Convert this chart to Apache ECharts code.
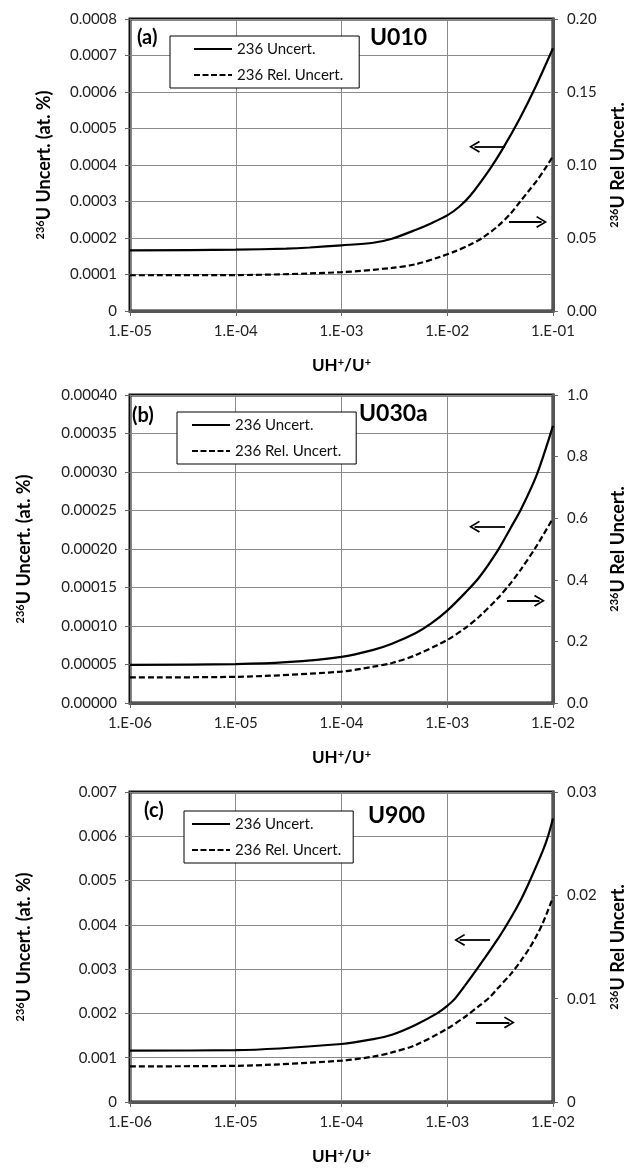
<!DOCTYPE html>
<html><head><meta charset="utf-8">
<script src="https://cdn.jsdelivr.net/npm/echarts@6/dist/echarts.min.js"></script>
<style>html,body{margin:0;padding:0;background:#fff}#c{width:636px;height:1169px}</style>
</head><body><div id="c"></div>
<script>
// ---------- data ----------
const seriesNames = ['236 Uncert.', '236 Rel. Uncert.'];
const panelLetters = ['(a)', '(b)', '(c)'];
const panelNames = ['U010', 'U030a', 'U900'];

// panel (a)
const xA_solid = [1e-5, 1e-4, 3e-4, 5e-4, 1e-3, 2e-3, 3e-3, 5e-3, 7e-3, 1e-2, 1.29e-2, 1.64e-2, 2.53e-2, 3.31e-2, 4.88e-2, 6.76e-2, 1e-1];
const solidA   = [0.000166, 0.000168, 0.000171, 0.000174, 0.00018, 0.000187, 0.000198, 0.000222, 0.00024, 0.000262, 0.000285, 0.000315, 0.000389, 0.000442, 0.000529, 0.000611, 0.00072];
const xA_dash  = [1e-5, 1e-4, 1e-3, 3e-3, 5e-3, 8.5e-3, 1.2e-2, 1.6e-2, 2.14e-2, 3e-2, 4e-2, 4.9e-2, 6e-2, 7.1e-2, 8.5e-2, 1e-1];
const dashA    = [0.0245, 0.0246, 0.0266, 0.0295, 0.032, 0.037, 0.041, 0.045, 0.05, 0.058, 0.067, 0.075, 0.083, 0.0897, 0.098, 0.106];
const xTicksA  = ['1.E-05', '1.E-04', '1.E-03', '1.E-02', '1.E-01'];
const leftTicksA  = ['0', '0.0001', '0.0002', '0.0003', '0.0004', '0.0005', '0.0006', '0.0007', '0.0008'];
const rightTicksA = ['0.00', '0.05', '0.10', '0.15', '0.20'];

// panel (b)
const xB_solid = [1e-6, 1e-5, 3e-5, 1e-4, 2e-4, 3e-4, 5e-4, 7e-4, 1e-3, 1.5e-3, 2e-3, 3e-3, 4e-3, 5e-3, 7e-3, 1e-2];
const solidB   = [0.0000495, 0.0000505, 0.000053, 0.00006, 0.000069, 0.000077, 0.0000906, 0.000103, 0.00012, 0.000144, 0.000163, 0.000198, 0.000228, 0.000252, 0.000296, 0.00036];
const xB_dash  = [1e-6, 1e-5, 1e-4, 2e-4, 3e-4, 5e-4, 1e-3, 1.5e-3, 2e-3, 3e-3, 4e-3, 5e-3, 7e-3, 1e-2];
const dashB    = [0.083, 0.085, 0.102, 0.118, 0.13, 0.155, 0.205, 0.245, 0.28, 0.34, 0.39, 0.435, 0.51, 0.60];
const xTicksB  = ['1.E-06', '1.E-05', '1.E-04', '1.E-03', '1.E-02'];
const leftTicksB  = ['0.00000', '0.00005', '0.00010', '0.00015', '0.00020', '0.00025', '0.00030', '0.00035', '0.00040'];
const rightTicksB = ['0.0', '0.2', '0.4', '0.6', '0.8', '1.0'];

// panel (c)
const xC_solid = [1e-6, 1e-5, 1e-4, 2e-4, 3e-4, 5e-4, 8e-4, 1e-3, 1.2e-3, 1.87e-3, 3.1e-3, 4e-3, 5e-3, 6e-3, 8e-3, 9e-3, 1e-2];
const solidC   = [0.00116, 0.00117, 0.00131, 0.00142, 0.00152, 0.00174, 0.002, 0.00217, 0.00235, 0.00297, 0.00373, 0.00416, 0.00458, 0.00498, 0.00567, 0.00601, 0.0064];
const xC_dash  = [1e-6, 1e-5, 1e-4, 2e-4, 3e-4, 5e-4, 1e-3, 1.5e-3, 2e-3, 2.5e-3, 3e-3, 4e-3, 5e-3, 6e-3, 7e-3, 8e-3, 1e-2];
const dashC    = [0.00345, 0.0035, 0.004, 0.0044, 0.0048, 0.0055, 0.0071, 0.0083, 0.0093, 0.0101, 0.011, 0.0124, 0.0137, 0.0149, 0.0161, 0.0173, 0.0198];
const xTicksC  = ['1.E-06', '1.E-05', '1.E-04', '1.E-03', '1.E-02'];
const leftTicksC  = ['0', '0.001', '0.002', '0.003', '0.004', '0.005', '0.006', '0.007'];
const rightTicksC = ['0', '0.01', '0.02', '0.03'];

// annotation arrows: [xHead, xTail, y]
const arrowsLeft  = [[0.0181, 0.0352, 0.00045], [0.00181, 0.00352, 0.000229], [0.00131, 0.00254, 0.00366]];
const arrowsRight = [[0.0780, 0.0384, 0.061], [0.00745, 0.00367, 0.332], [0.00387, 0.00187, 0.0077]];

// ---------- chart ----------
const FONT = 'Lato';
const chart = echarts.init(document.getElementById('c'), null, {renderer: 'canvas'});
const pairs = (xs, ys) => xs.map((x, i) => [x, ys[i]]);

const panels = [
  {top: 19, height: 292, xmin: 1e-5, xmax: 1e-1, xt: xTicksA, lmax: 0.0008, lint: 0.0001, lt: leftTicksA, rmax: 0.2, rint: 0.05, rt: rightTicksA,
   xs: xA_solid, s: solidA, xd: xA_dash, d: dashA, lgap: 76, legend: {left: 170, top: 36, pl: 24, pr: 16}},
  {top: 395, height: 308, xmin: 1e-6, xmax: 1e-2, xt: xTicksB, lmax: 0.0004, lint: 0.00005, lt: leftTicksB, rmax: 1.0, rint: 0.2, rt: rightTicksB,
   xs: xB_solid, s: solidB, xd: xB_dash, d: dashB, lgap: 96, legend: {left: 177, top: 412, pl: 15, pr: 15}},
  {top: 792, height: 310, xmin: 1e-6, xmax: 1e-2, xt: xTicksC, lmax: 0.007, lint: 0.001, lt: leftTicksC, rmax: 0.03, rint: 0.01, rt: rightTicksC,
   xs: xC_solid, s: solidC, xd: xC_dash, d: dashC, lgap: 96, legend: {left: 184, top: 811, pl: 8, pr: 12}}
];

const chevron = 'path://M6,0 L12,9.6 L10.6,10.6 L6,3 L1.4,10.6 L0,9.6 Z';
const iconSolid = 'path://M0,0 H38 V2 H0 Z';
const iconDash = 'path://M0,0 H6 V2 H0 Z M8.5,0 H14.5 V2 H8.5 Z M17,0 H23 V2 H17 Z M25.5,0 H31.5 V2 H25.5 Z M34,0 H38 V2 H34 Z';
const supRich = {
  b: {fontFamily: FONT, fontWeight: 'bold', fontSize: 18, color: '#000'},
  sup: {fontFamily: FONT, fontWeight: 'bold', fontSize: 11, color: '#000', verticalAlign: 'top', padding: [0, 0, 8, 0]}
};
const supRichX = {
  b: {fontFamily: FONT, fontWeight: 'bold', fontSize: 17, color: '#000'},
  sup: {fontFamily: FONT, fontWeight: 'bold', fontSize: 11, color: '#000', verticalAlign: 'top', padding: [0, 0, 7, 0]}
};

const grid = [], xAxis = [], yAxis = [], series = [], legend = [], title = [];
panels.forEach((p, i) => {
  grid.push({left: 130, width: 423, top: p.top, height: p.height, show: true, borderColor: '#111', borderWidth: 3, backgroundColor: 'transparent'});
  xAxis.push({
    type: 'log', gridIndex: i, min: p.xmin, max: p.xmax, logBase: 10,
    name: '{b|UH}{sup|+}{b|/U}{sup|+}', nameLocation: 'middle', nameGap: 46,
    nameTextStyle: {rich: supRichX},
    axisLine: {show: true, lineStyle: {color: '#555', width: 3}},
    axisTick: {show: true, length: 5, lineStyle: {color: '#666', width: 1}},
    minorTick: {show: false}, minorSplitLine: {show: false},
    splitLine: {show: true, lineStyle: {color: '#8a8a8a', width: 1}},
    axisLabel: {fontFamily: FONT, fontSize: 15, color: '#222', margin: 13, formatter: (v, idx) => p.xt[idx]}
  });
  yAxis.push({
    type: 'value', gridIndex: i, position: 'left', min: 0, max: p.lmax, interval: p.lint,
    name: '{sup|236}{b|U Uncert. (at. %)}', nameLocation: 'middle', nameGap: p.lgap, nameRotate: 90,
    nameTextStyle: {rich: supRich},
    axisLine: {show: true, lineStyle: {color: '#777', width: 1}},
    axisTick: {show: true, length: 5, lineStyle: {color: '#666'}},
    splitLine: {show: true, lineStyle: {color: '#8a8a8a', width: 1}},
    axisLabel: {fontFamily: FONT, fontSize: 15, color: '#222', margin: 13, formatter: (v, idx) => p.lt[idx]}
  });
  yAxis.push({
    type: 'value', gridIndex: i, position: 'right', min: 0, max: p.rmax, interval: p.rint,
    name: '{sup|236}{b|U Rel Uncert.}', nameLocation: 'middle', nameGap: 56, nameRotate: 90,
    nameTextStyle: {rich: supRich},
    axisLine: {show: true, lineStyle: {color: '#555', width: 3}},
    axisTick: {show: true, length: 5, lineStyle: {color: '#666'}},
    splitLine: {show: false},
    axisLabel: {fontFamily: FONT, fontSize: 15, color: '#222', margin: 14, formatter: (v, idx) => p.rt[idx]}
  });
  const la = arrowsLeft[i], ra = arrowsRight[i];
  const ml = (a) => ({
    silent: true, animation: false, symbol: [chevron, 'none'], symbolSize: [12, 11],
    label: {show: false}, emphasis: {disabled: true}, lineStyle: {color: '#000', width: 1.8, type: 'solid'},
    data: [[{coord: [a[0], a[2]]}, {coord: [a[1], a[2]]}]]
  });
  series.push({
    name: seriesNames[0], type: 'line', xAxisIndex: i, yAxisIndex: 2 * i, data: pairs(p.xs, p.s),
    showSymbol: false, symbol: 'none', smooth: 0.3,
    lineStyle: {color: '#000', width: 2.2, type: 'solid'}, itemStyle: {color: '#000'},
    markLine: ml(la)
  });
  series.push({
    name: seriesNames[1], type: 'line', xAxisIndex: i, yAxisIndex: 2 * i + 1, data: pairs(p.xd, p.d),
    showSymbol: false, symbol: 'none', smooth: 0.3,
    lineStyle: {color: '#000', width: 2.2, type: [6, 3]}, itemStyle: {color: '#000'},
    markLine: ml(ra)
  });
  legend.push({
    show: true, orient: 'vertical', left: p.legend.left, top: p.legend.top,
    padding: [4, p.legend.pr, 4, p.legend.pl], itemGap: 8, itemWidth: 38, itemHeight: 2,
    borderColor: '#000', borderWidth: 1, backgroundColor: '#fff', selectedMode: false,
    textStyle: {fontFamily: FONT, fontSize: 15, color: '#111', width: 100, height: 18, lineHeight: 18},
    data: [{name: seriesNames[0], icon: iconSolid}, {name: seriesNames[1], icon: iconDash}]
  });
  title.push({text: panelLetters[i], left: [137, 132, 144][i], top: [28, 406, 801][i], padding: 0,
    textStyle: {fontFamily: FONT, fontSize: 20, fontWeight: 'bold', color: '#000'}});
  title.push({text: panelNames[i], left: [370, 359, 368][i], top: [26, 402, 804][i], padding: 0,
    textStyle: {fontFamily: FONT, fontSize: 23, fontWeight: 'bold', color: '#000'}});
});

chart.setOption({animation: false, backgroundColor: '#fff', title, grid, xAxis, yAxis, series, legend});
</script></body></html>
